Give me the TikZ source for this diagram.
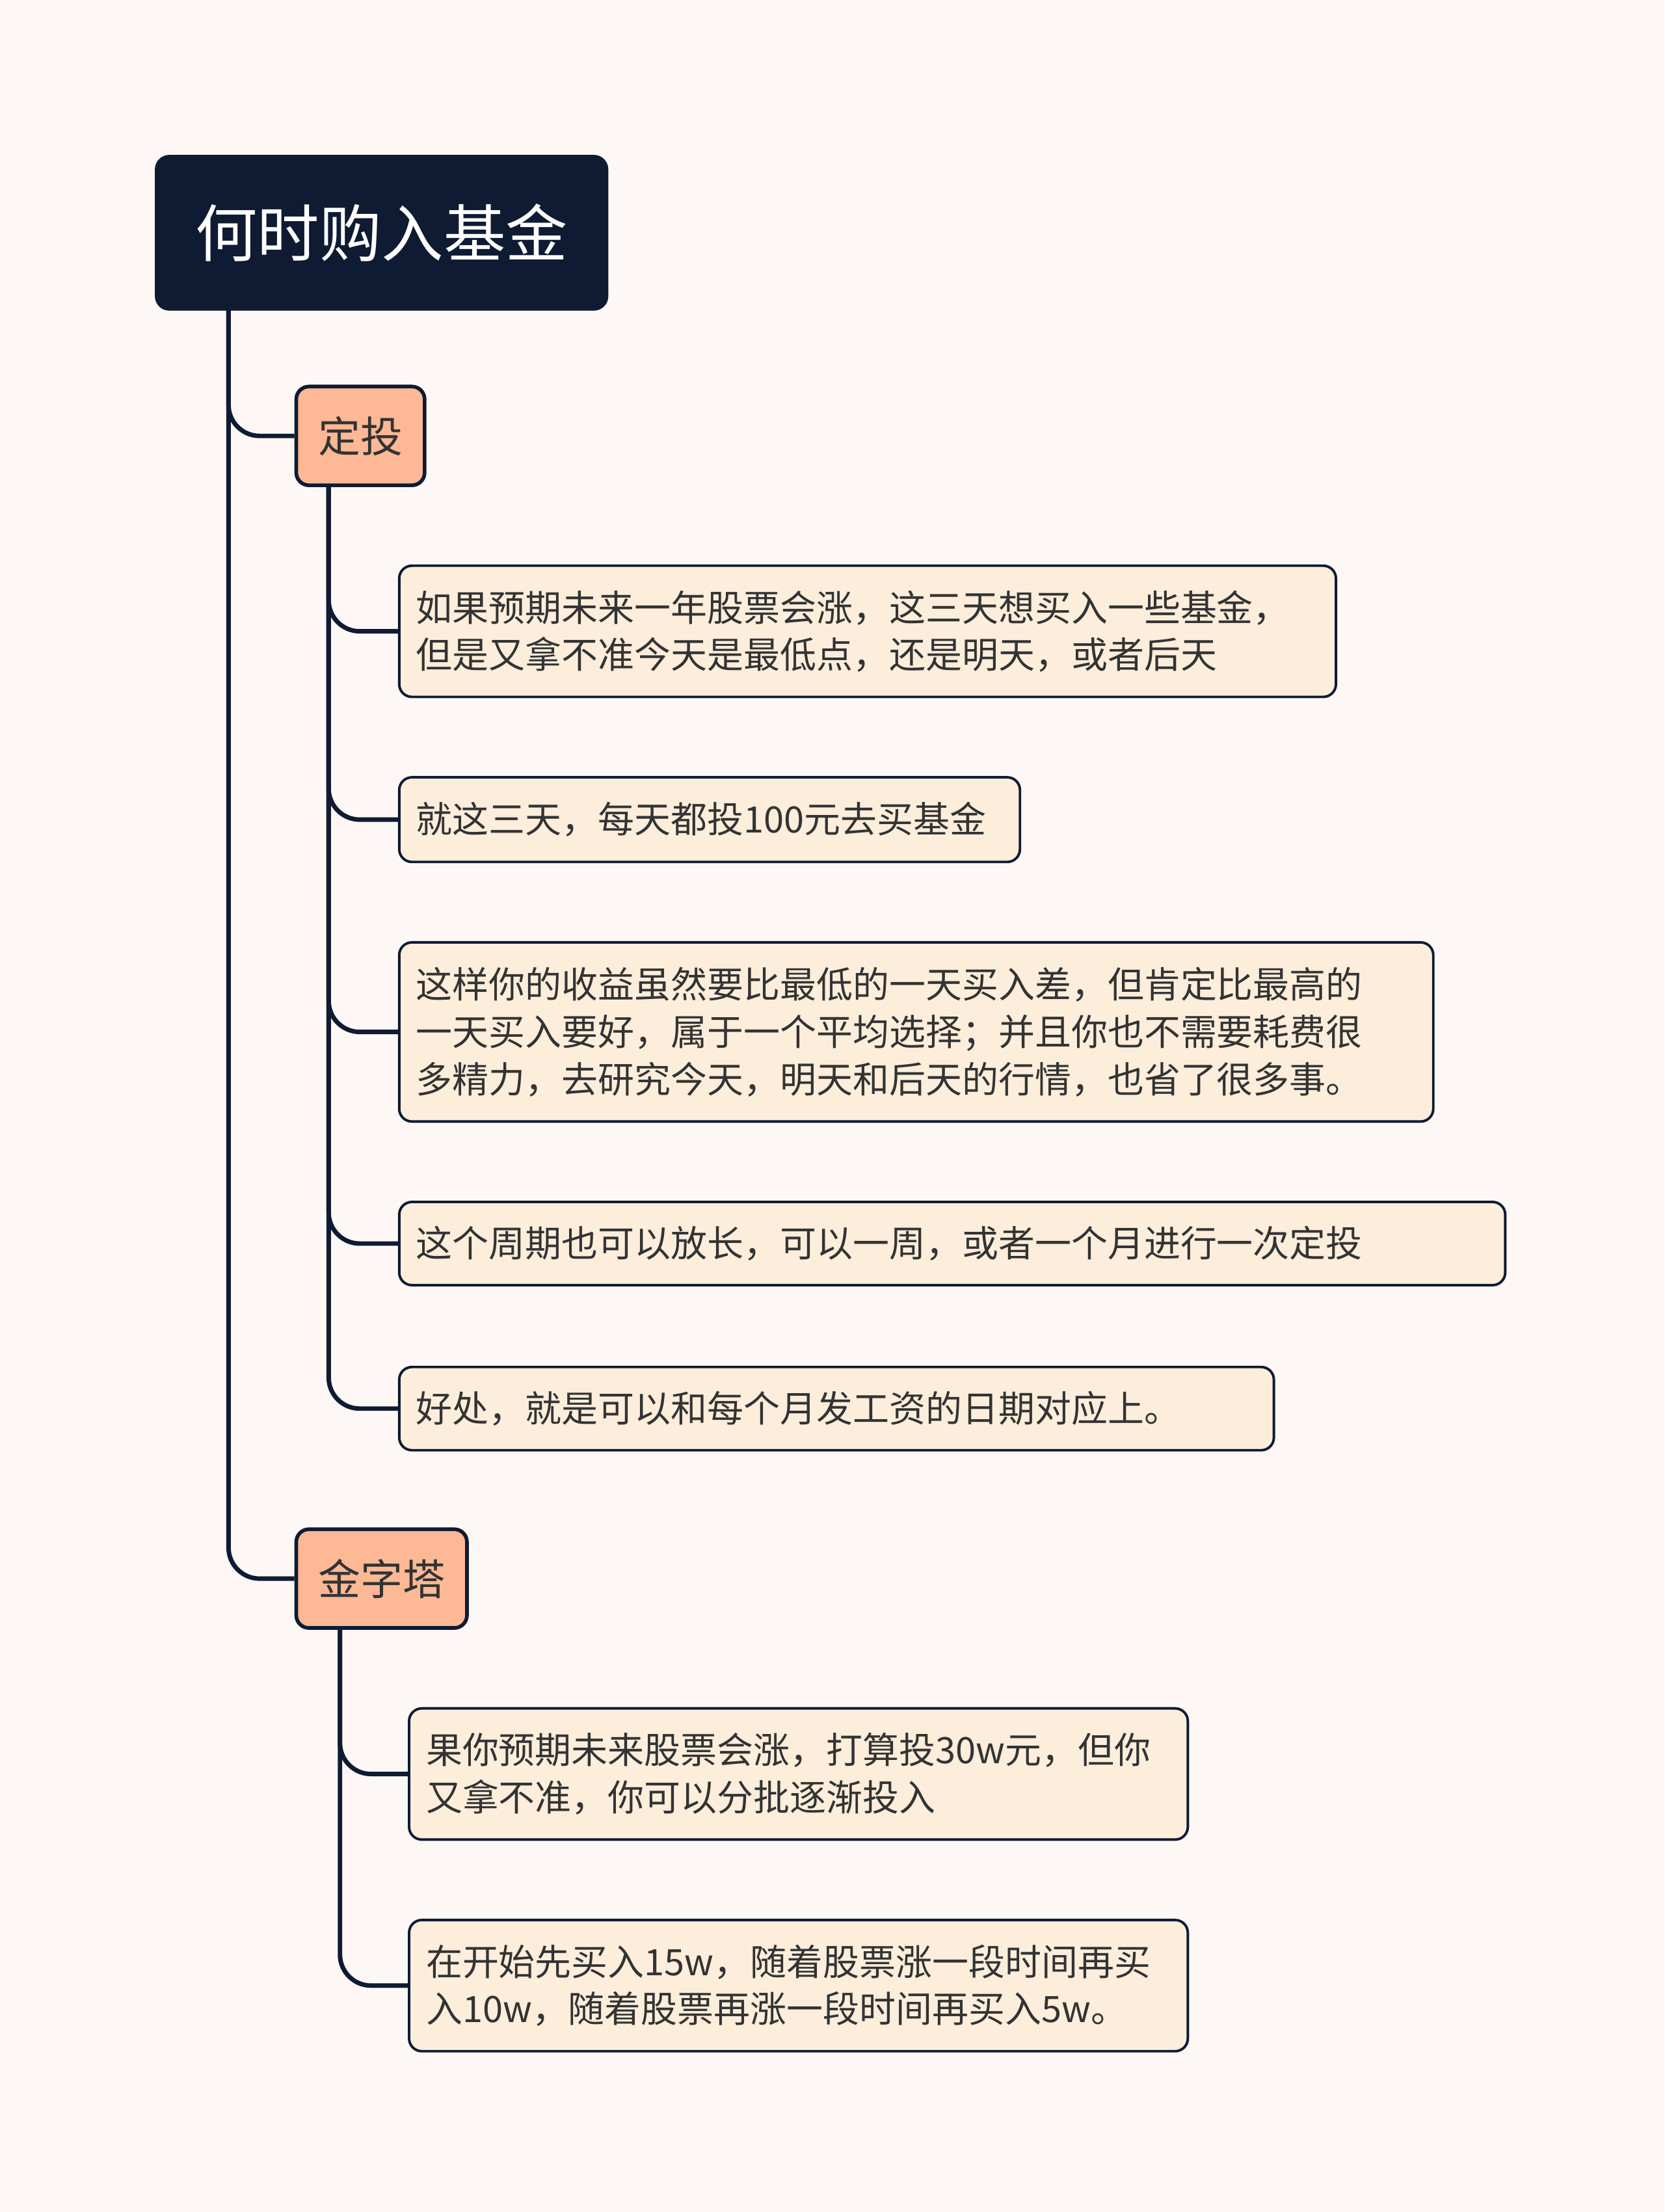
\documentclass[tikz,border=0pt]{standalone}
\usepackage{fontspec}
\newfontfamily\cjk{Noto Sans CJK SC}
\definecolor{bg}{HTML}{FDF8F6}
\definecolor{navy}{HTML}{0F1B33}
\definecolor{salmon}{HTML}{FDB896}
\definecolor{leaf}{HTML}{FDEEDC}
\definecolor{txt}{HTML}{333333}
\begin{document}
\begin{tikzpicture}[x=1pt,y=-1pt,
 conn/.style={draw=navy,line width=3.2pt,rounded corners=22pt},
 rootbox/.style={fill=navy,draw=navy,rounded corners=10pt,text=white,font=\cjk\fontsize{44}{50}\selectfont,inner sep=0pt},
 branch/.style={fill=salmon,draw=navy,line width=2.6pt,rounded corners=9pt,text=txt,font=\cjk\fontsize{30}{34}\selectfont,inner sep=0pt},
 leafbox/.style={fill=leaf,draw=navy,line width=1.8pt,rounded corners=9pt,text=txt,font=\cjk\fontsize{25.8}{33.5}\selectfont,inner sep=0pt,align=left}]
\fill[bg] (0,0) rectangle (1180,1568);
\useasboundingbox (0,0) rectangle (1180,1568);
\node[rootbox,minimum width=321pt,minimum height=110pt] (root) at (270.5,165) {何时购入基金};
\node[branch,minimum width=91pt,minimum height=70pt] (dt) at (255.5,309) {定投};
\node[branch,minimum width=121pt,minimum height=70pt] (jzt) at (270.5,1119) {金字塔};
\newcommand{\leafnode}[6]{\node[leafbox,minimum width=#3pt,minimum height=#4pt,text width=#5pt] (#1) at (#2) {#6};}
\leafnode{l1}{615,447.5}{664}{93}{640}{如果预期未来一年股票会涨，这三天想买入一些基金，\\但是又拿不准今天是最低点，还是明天，或者后天}
\leafnode{l2}{503,581}{440}{60}{416}{就这三天，每天都投100元去买基金}
\leafnode{l3}{649.5,731.5}{733}{127}{709}{这样你的收益虽然要比最低的一天买入差，但肯定比最高的\\一天买入要好，属于一个平均选择；并且你也不需要耗费很\\多精力，去研究今天，明天和后天的行情，也省了很多事。}
\leafnode{l4}{675,881.5}{784}{59}{760}{这个周期也可以放长，可以一周，或者一个月进行一次定投}
\leafnode{l5}{593,998.5}{620}{59}{596}{好处，就是可以和每个月发工资的日期对应上。}
\leafnode{l6}{566,1257.5}{552}{93}{528}{果你预期未来股票会涨，打算投30w元，但你\\又拿不准，你可以分批逐渐投入}
\leafnode{l7}{566,1407.5}{552}{93}{528}{在开始先买入15w，随着股票涨一段时间再买\\入10w，随着股票再涨一段时间再买入5w。}
\coordinate (t0) at (162,220);
\coordinate (d0) at (233,344);
\coordinate (j0) at (241,1154);
\draw[conn] (t0) |- (dt.west);
\draw[conn] (t0) |- (jzt.west);
\foreach \n in {l1,l2,l3,l4,l5}{\draw[conn] (d0) |- (\n.west);}
\foreach \n in {l6,l7}{\draw[conn] (j0) |- (\n.west);}
\end{tikzpicture}
\end{document}
